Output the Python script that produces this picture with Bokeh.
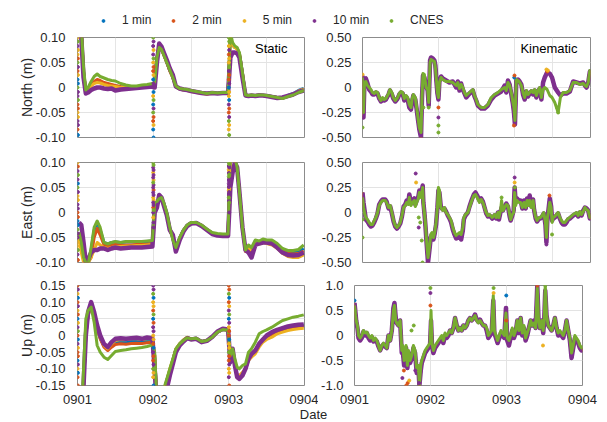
from bokeh.plotting import figure
from bokeh.layouts import column, row
from bokeh.models import FixedTicker, Grid, Legend, LegendItem, Label, Range1d
from bokeh.embed import file_html
from bokeh.resources import INLINE

SERIES = ["1 min", "2 min", "5 min", "10 min", "CNES"]
COLORS = ["#0072BD", "#D95319", "#EDB120", "#7E2F8E", "#77AC30"]
DATE_TICKS = [0, 1, 2, 3]
DATE_LABELS = ["0901", "0902", "0903", "0904"]
NE_STATIC_TICKS = [-0.1, -0.05, 0, 0.05, 0.1]
NE_STATIC_LABELS = ["-0.10", "-0.05", "0", "0.05", "0.10"]
UP_STATIC_TICKS = [-0.15, -0.1, -0.05, 0, 0.05, 0.1, 0.15]
UP_STATIC_LABELS = ["-0.15", "-0.10", "-0.05", "0", "0.05", "0.10", "0.15"]
NE_KIN_TICKS = [-0.5, -0.25, 0, 0.25, 0.5]
NE_KIN_LABELS = ["-0.50", "-0.25", "0", "0.25", "0.50"]
UP_KIN_TICKS = [-1.0, -0.5, 0, 0.5, 1.0]
UP_KIN_LABELS = ["-1.0", "-0.5", "0", "0.5", "1.0"]

# ---------------- static (days since 0901) ----------------
ST = [0.02, 0.05, 0.08, 0.11, 0.14, 0.18, 0.22, 0.26, 0.30, 0.35, 0.40, 0.45, 0.50, 0.57, 0.64, 0.71, 0.78, 0.85, 0.92, 0.99,
      1.02, 1.05, 1.08, 1.11, 1.14, 1.18, 1.22, 1.26, 1.30, 1.35, 1.40, 1.45, 1.50, 1.57, 1.64, 1.71, 1.78, 1.85, 1.92, 1.99,
      2.02, 2.05, 2.08, 2.11, 2.14, 2.18, 2.22, 2.26, 2.30, 2.35, 2.40, 2.45, 2.50, 2.57, 2.64, 2.71, 2.78, 2.85, 2.92, 2.99]

SN_1MIN = [0.15, 0.11, 0.03, -0.01, -0.004, 0.004, 0.01, 0.013, 0.011, 0.008, 0.006, 0.004, 0.003, 0.001, 0.0, 0.0, 0.001, 0.002, 0.003, 0.004,
           0.01, 0.06, 0.082, 0.076, 0.066, 0.05, 0.034, 0.02, 0.002, -0.003, -0.004, -0.005, -0.007, -0.009, -0.011, -0.012, -0.011, -0.012, -0.011, -0.011,
           0.1, 0.085, 0.08, 0.078, 0.068, 0.028, -0.015, -0.016, -0.016, -0.016, -0.015, -0.016, -0.017, -0.018, -0.02, -0.021, -0.016, -0.012, -0.006, -0.002]
SN_2MIN = [0.15, 0.12, 0.03, -0.008, -0.003, 0.005, 0.012, 0.016, 0.014, 0.01, 0.008, 0.006, 0.004, 0.002, 0.001, 0.0, 0.001, 0.002, 0.003, 0.005,
           0.01, 0.06, 0.083, 0.076, 0.066, 0.05, 0.033, 0.02, 0.002, -0.003, -0.004, -0.005, -0.007, -0.009, -0.011, -0.013, -0.011, -0.012, -0.011, -0.011,
           0.1, 0.085, 0.08, 0.078, 0.068, 0.028, -0.015, -0.016, -0.016, -0.016, -0.015, -0.016, -0.017, -0.018, -0.02, -0.021, -0.017, -0.013, -0.008, -0.004]
SN_5MIN = [0.15, 0.11, 0.03, -0.01, -0.005, 0.003, 0.008, 0.01, 0.009, 0.006, 0.004, 0.003, 0.002, 0.0, 0.0, 0.0, 0.0, 0.001, 0.002, 0.004,
           0.01, 0.058, 0.082, 0.075, 0.065, 0.05, 0.034, 0.02, 0.002, -0.003, -0.005, -0.006, -0.008, -0.01, -0.012, -0.013, -0.012, -0.012, -0.011, -0.011,
           0.1, 0.085, 0.08, 0.077, 0.067, 0.027, -0.016, -0.017, -0.017, -0.017, -0.016, -0.016, -0.017, -0.019, -0.021, -0.021, -0.017, -0.013, -0.007, -0.003]
SN_10MIN = [0.15, 0.1, 0.02, -0.012, -0.01, -0.005, -0.002, 0.0, 0.0, -0.002, -0.003, -0.002, -0.006, -0.004, -0.003, -0.002, -0.001, 0.0, 0.001, 0.002,
            0.0, 0.05, 0.088, 0.082, 0.07, 0.055, 0.038, 0.025, 0.002, -0.002, -0.004, -0.005, -0.007, -0.009, -0.011, -0.012, -0.011, -0.012, -0.011, -0.011,
            0.06, 0.07, 0.07, 0.068, 0.06, 0.02, -0.016, -0.017, -0.016, -0.017, -0.016, -0.016, -0.017, -0.019, -0.021, -0.02, -0.017, -0.014, -0.009, -0.006]
SN_CNES = [0.15, 0.12, 0.04, -0.005, 0.0, 0.012, 0.022, 0.027, 0.022, 0.019, 0.016, 0.014, 0.013, 0.008, 0.005, 0.003, 0.003, 0.005, 0.006, 0.008,
           0.01, 0.06, 0.08, 0.076, 0.065, 0.05, 0.035, 0.02, 0.003, -0.002, -0.003, -0.004, -0.006, -0.008, -0.01, -0.012, -0.01, -0.011, -0.01, -0.01,
           0.11, 0.09, 0.083, 0.08, 0.07, 0.03, -0.015, -0.016, -0.015, -0.016, -0.015, -0.015, -0.016, -0.018, -0.02, -0.022, -0.018, -0.015, -0.01, -0.006]

SE_1MIN = [-0.04, -0.065, -0.09, -0.1, -0.1, -0.075, -0.035, -0.02, -0.035, -0.06, -0.063, -0.06, -0.059, -0.06, -0.059, -0.059, -0.059, -0.059, -0.058, -0.057,
           0.02, 0.02, 0.027, 0.028, 0.018, -0.002, -0.032, -0.052, -0.072, -0.051, -0.036, -0.026, -0.021, -0.021, -0.026, -0.034, -0.041, -0.044, -0.044, -0.044,
           0.12, 0.11, 0.1, 0.09, 0.04, -0.03, -0.076, -0.068, -0.073, -0.057, -0.059, -0.055, -0.057, -0.058, -0.065, -0.074, -0.079, -0.08, -0.079, -0.072]
SE_2MIN = [-0.04, -0.07, -0.095, -0.1, -0.1, -0.09, -0.05, -0.032, -0.045, -0.065, -0.068, -0.066, -0.064, -0.066, -0.065, -0.065, -0.064, -0.064, -0.063, -0.062,
           0.02, 0.02, 0.025, 0.025, 0.015, -0.005, -0.035, -0.05, -0.075, -0.053, -0.037, -0.026, -0.021, -0.021, -0.026, -0.035, -0.042, -0.045, -0.046, -0.046,
           0.12, 0.11, 0.1, 0.09, 0.04, -0.03, -0.078, -0.075, -0.082, -0.06, -0.06, -0.057, -0.058, -0.06, -0.067, -0.077, -0.082, -0.083, -0.082, -0.077]
SE_5MIN = [-0.05, -0.08, -0.1, -0.1, -0.1, -0.09, -0.075, -0.06, -0.065, -0.07, -0.072, -0.07, -0.068, -0.068, -0.067, -0.067, -0.066, -0.066, -0.065, -0.064,
           0.02, 0.02, 0.025, 0.027, 0.017, -0.003, -0.033, -0.05, -0.075, -0.052, -0.036, -0.026, -0.021, -0.021, -0.026, -0.034, -0.042, -0.045, -0.045, -0.045,
           0.12, 0.11, 0.1, 0.09, 0.04, -0.03, -0.075, -0.07, -0.075, -0.06, -0.063, -0.06, -0.062, -0.065, -0.072, -0.082, -0.088, -0.09, -0.09, -0.085]
SE_10MIN = [-0.02, -0.025, -0.06, -0.1, -0.095, -0.08, -0.075, -0.075, -0.072, -0.072, -0.075, -0.072, -0.07, -0.072, -0.071, -0.07, -0.07, -0.07, -0.069, -0.068,
            0.0, 0.01, 0.035, 0.03, 0.015, -0.005, -0.035, -0.045, -0.078, -0.055, -0.038, -0.027, -0.022, -0.021, -0.027, -0.035, -0.043, -0.046, -0.047, -0.047,
            0.05, 0.08, 0.1, 0.09, 0.04, -0.03, -0.075, -0.08, -0.09, -0.065, -0.062, -0.06, -0.06, -0.062, -0.07, -0.08, -0.085, -0.086, -0.085, -0.08]
SE_CNES = [-0.04, -0.06, -0.09, -0.1, -0.105, -0.07, -0.03, -0.017, -0.03, -0.06, -0.063, -0.06, -0.058, -0.06, -0.058, -0.058, -0.058, -0.058, -0.057, -0.056,
           0.02, 0.022, 0.028, 0.03, 0.02, 0.0, -0.03, -0.055, -0.07, -0.05, -0.035, -0.025, -0.02, -0.02, -0.025, -0.033, -0.04, -0.042, -0.043, -0.043,
           0.13, 0.12, 0.11, 0.09, 0.04, -0.03, -0.075, -0.065, -0.07, -0.055, -0.057, -0.053, -0.055, -0.055, -0.062, -0.072, -0.076, -0.076, -0.074, -0.065]

SU_1MIN = [-0.3, -0.25, -0.15, 0.0, 0.063, 0.09, 0.06, 0.022, -0.008, -0.032, -0.042, -0.03, -0.02, -0.018, -0.019, -0.017, -0.016, -0.018, -0.016, -0.018,
           -0.06, -0.2, -0.25, -0.21, -0.17, -0.135, -0.103, -0.073, -0.041, -0.025, -0.014, -0.006, -0.01, -0.008, -0.018, -0.015, -0.005, 0.01, 0.018, 0.016,
           -0.08, -0.045, -0.09, -0.12, -0.127, -0.115, -0.1, -0.07, -0.057, -0.047, -0.027, -0.014, -0.002, 0.007, 0.015, 0.02, 0.025, 0.028, 0.03, 0.031]
SU_2MIN = [-0.3, -0.25, -0.15, 0.0, 0.06, 0.09, 0.06, 0.02, -0.01, -0.035, -0.045, -0.035, -0.027, -0.025, -0.026, -0.024, -0.023, -0.024, -0.022, -0.02,
           -0.06, -0.2, -0.25, -0.21, -0.17, -0.135, -0.105, -0.075, -0.042, -0.026, -0.015, -0.007, -0.011, -0.009, -0.019, -0.016, -0.005, 0.011, 0.019, 0.017,
           -0.08, -0.05, -0.09, -0.12, -0.125, -0.115, -0.1, -0.072, -0.06, -0.05, -0.03, -0.016, -0.006, 0.003, 0.012, 0.017, 0.022, 0.025, 0.027, 0.028]
SU_5MIN = [-0.3, -0.25, -0.15, 0.0, 0.065, 0.09, 0.06, 0.025, -0.005, -0.03, -0.04, -0.025, -0.015, -0.012, -0.013, -0.01, -0.01, -0.012, -0.01, -0.01,
           -0.06, -0.2, -0.25, -0.21, -0.17, -0.135, -0.1, -0.072, -0.04, -0.024, -0.013, -0.005, -0.01, -0.008, -0.018, -0.015, -0.005, 0.01, 0.018, 0.016,
           -0.08, -0.05, -0.09, -0.12, -0.12, -0.11, -0.1, -0.075, -0.065, -0.055, -0.035, -0.02, -0.012, -0.005, 0.005, 0.01, 0.015, 0.018, 0.02, 0.022]
SU_10MIN = [-0.3, -0.25, -0.15, 0.0, 0.07, 0.1, 0.07, 0.03, 0.0, -0.025, -0.035, -0.02, -0.01, -0.008, -0.01, -0.008, -0.007, -0.01, -0.006, -0.008,
            -0.1, -0.22, -0.27, -0.24, -0.2, -0.16, -0.12, -0.085, -0.05, -0.03, -0.018, -0.008, -0.012, -0.01, -0.02, -0.016, -0.004, 0.012, 0.02, 0.018,
            -0.08, -0.04, -0.09, -0.125, -0.13, -0.12, -0.1, -0.07, -0.055, -0.045, -0.025, -0.012, 0.0, 0.01, 0.017, 0.022, 0.027, 0.03, 0.032, 0.033]
SU_CNES = [-0.3, -0.25, -0.1, 0.05, 0.075, 0.085, 0.04, -0.03, -0.05, -0.065, -0.072, -0.06, -0.048, -0.045, -0.043, -0.04, -0.038, -0.036, -0.033, -0.028,
           -0.05, -0.2, -0.25, -0.2, -0.16, -0.13, -0.1, -0.07, -0.04, -0.025, -0.015, -0.007, -0.01, -0.008, -0.018, -0.015, -0.005, 0.01, 0.018, 0.016,
           -0.06, -0.04, -0.07, -0.095, -0.1, -0.09, -0.085, -0.05, -0.04, -0.02, 0.005, 0.012, 0.017, 0.025, 0.035, 0.045, 0.05, 0.055, 0.058, 0.062]

# convergence scatter at the start of each static day (series index 0..4)
STATIC_DOT_T = [0.0, 0.0, 0.0, 0.0, 0.0, 0.0, 0.0, 0.0, 0.0, 0.0, 0.0, 0.0,
                0.005, 0.005, 0.005, 0.005, 0.005, 0.005, 0.005, 0.005, 0.005, 0.005, 0.005, 0.005,
                1.0, 1.0, 1.0, 1.0, 1.0, 1.0, 1.0, 1.0, 1.0, 1.0, 1.0, 1.0,
                1.005, 1.005, 1.005, 1.005, 1.005, 1.005, 1.005, 1.005, 1.005, 1.005, 1.005, 1.005,
                2.0, 2.0, 2.0, 2.0, 2.0, 2.0, 2.0, 2.0, 2.0, 2.0, 2.0, 2.0,
                2.005, 2.005, 2.005, 2.005, 2.005, 2.005, 2.005, 2.005, 2.005, 2.005, 2.005, 2.005]
SN_DOT_V = [0.1, 0.083, 0.066, 0.05, 0.033, 0.016, 0.0, -0.017, -0.034, -0.05, -0.067, -0.084,
            0.092, 0.075, 0.058, 0.041, 0.025, 0.008, -0.009, -0.025, -0.042, -0.059, -0.075, -0.095,
            0.1, 0.083, 0.066, 0.05, 0.033, 0.016, 0.0, -0.017, -0.034, -0.05, -0.067, -0.084,
            0.092, 0.075, 0.058, 0.041, 0.025, 0.008, -0.009, -0.025, -0.042, -0.059, -0.075, -0.1,
            0.1, 0.083, 0.066, 0.05, 0.033, 0.016, 0.0, -0.017, -0.034, -0.05, -0.067, -0.084,
            0.092, 0.075, 0.058, 0.041, 0.025, 0.008, -0.009, -0.025, -0.042, -0.059, -0.075, -0.095]
SN_DOT_S = [2, 3, 2, 4, 1, 0, 4, 3, 1, 2, 3, 1, 4, 2, 1, 3, 2, 0, 3, 4, 1, 2, 3, 0,
            4, 3, 3, 2, 1, 0, 3, 2, 0, 4, 1, 0, 3, 2, 4, 1, 2, 3, 0, 4, 3, 1, 2, 0,
            4, 2, 1, 2, 3, 1, 0, 2, 3, 1, 4, 2, 4, 3, 2, 4, 1, 3, 2, 0, 1, 3, 2, 4]
SE_DOT_V = [0.1, 0.083, 0.066, 0.05, 0.033, 0.016, 0.0, -0.017, -0.034, -0.05, -0.067, -0.084,
            0.092, 0.075, 0.058, 0.041, 0.025, 0.008, -0.009, -0.025, -0.042, -0.059, -0.075, -0.095,
            0.1, 0.09, 0.08, 0.07, 0.06, 0.05, 0.04, 0.03, 0.02, 0.01, 0.0, -0.01,
            0.095, 0.085, 0.075, 0.065, 0.055, 0.045, 0.035, 0.025, 0.015, 0.005, -0.02, -0.03,
            0.1, 0.093, 0.086, 0.079, 0.072, 0.065, 0.058, 0.051, 0.044, 0.037, 0.03, 0.023,
            0.097, 0.09, 0.083, 0.076, 0.069, 0.062, 0.055, 0.048, 0.041, 0.034, 0.02, 0.0]
SE_DOT_S = [2, 3, 3, 4, 2, 3, 1, 0, 4, 3, 2, 3, 1, 4, 0, 3, 2, 3, 1, 0, 3, 2, 4, 1,
            4, 3, 2, 3, 4, 3, 3, 2, 3, 1, 3, 2, 4, 3, 3, 2, 3, 1, 3, 2, 3, 4, 3, 3,
            4, 3, 2, 3, 4, 3, 3, 3, 2, 3, 4, 3, 4, 3, 2, 4, 3, 3, 3, 2, 3, 3, 4, 3]
SU_DOT_V = [0.15, 0.125, 0.1, 0.075, 0.05, 0.025, 0.0, -0.025, -0.05, -0.075, -0.1, -0.125,
            0.138, 0.113, 0.088, 0.063, 0.038, 0.013, -0.012, -0.037, -0.062, -0.087, -0.112, -0.15,
            0.15, 0.125, 0.1, 0.075, 0.05, 0.025, 0.0, -0.025, -0.05, -0.075, -0.1, -0.125,
            0.138, 0.113, 0.088, 0.063, 0.038, 0.013, -0.012, -0.037, -0.062, -0.087, -0.112, -0.15,
            0.15, 0.125, 0.1, 0.075, 0.05, 0.025, 0.0, -0.025, -0.05, -0.075, -0.1, -0.125,
            0.138, 0.113, 0.088, 0.063, 0.038, 0.013, -0.012, -0.037, -0.062, -0.087, -0.112, -0.15]
SU_DOT_S = [1, 2, 1, 2, 0, 3, 1, 3, 1, 0, 2, 1, 3, 0, 3, 1, 2, 4, 0, 2, 1, 3, 0, 1,
            3, 4, 2, 1, 0, 3, 2, 1, 3, 1, 4, 2, 3, 0, 2, 4, 1, 3, 2, 0, 1, 3, 2, 0,
            1, 4, 1, 3, 0, 2, 1, 2, 4, 1, 2, 3, 1, 0, 2, 4, 3, 1, 0, 2, 1, 3, 2, 1]

# ---------------- kinematic ----------------
KN_T = [0.000, 0.013, 0.026, 0.044, 0.066, 0.088, 0.110, 0.132, 0.154, 0.176, 0.198, 0.220, 0.242, 0.264, 0.286, 0.308, 0.343, 0.361, 0.387, 0.405,
        0.431, 0.462, 0.484, 0.506, 0.528, 0.550, 0.572, 0.594, 0.616, 0.638, 0.651, 0.669, 0.695, 0.713, 0.730, 0.748, 0.770, 0.783, 0.796, 0.814,
        0.836, 0.858, 0.871, 0.889, 0.902, 0.924, 0.946, 0.959, 0.972, 0.986, 0.999, 1.012, 1.034, 1.056, 1.100, 1.144, 1.188, 1.232, 1.254, 1.276,
        1.298, 1.320, 1.342, 1.364, 1.408, 1.452, 1.474, 1.496, 1.518, 1.562, 1.606, 1.650, 1.694, 1.738, 1.782, 1.826, 1.870, 1.892, 1.914, 1.936,
        1.958, 1.980, 1.993, 2.006, 2.024, 2.046, 2.068, 2.090, 2.112, 2.134, 2.156, 2.178, 2.200, 2.222, 2.244, 2.266, 2.288, 2.310, 2.332, 2.354,
        2.376, 2.398, 2.429, 2.464, 2.494, 2.530, 2.574, 2.604, 2.640, 2.684, 2.728, 2.772, 2.816, 2.860, 2.904, 2.926, 2.948, 2.970, 2.992, 3.000]
KN_CNES = [0.1, -0.25, 0.05, 0.06, 0.02, 0.0, -0.02, -0.05, -0.06, -0.04, -0.05, -0.1, -0.13, -0.1, -0.12, -0.11, -0.06, -0.02, -0.05, -0.1,
           -0.13, -0.1, -0.06, -0.04, -0.05, -0.11, -0.08, -0.1, -0.17, -0.2, -0.12, -0.07, -0.1, -0.2, -0.3, -0.4, -0.45, -0.1, 0.14, 0.13,
           0.0, -0.02, -0.15, 0.25, 0.28, 0.27, 0.26, 0.2, 0.08, -0.05, -0.1, 0.05, 0.1, 0.08, 0.06, 0.06, 0.05, 0.02, 0.05, -0.01,
           0.03, 0.0, -0.05, -0.08, -0.05, -0.02, -0.08, -0.12, -0.17, -0.2, -0.2, -0.17, -0.1, -0.07, -0.05, -0.02, 0.0, -0.03, 0.05, 0.02,
           -0.05, -0.15, -0.2, -0.33, 0.08, 0.07, 0.05, 0.02, -0.05, -0.1, -0.03, -0.07, -0.05, -0.03, -0.05, -0.02, -0.08, -0.03, 0.0, -0.1,
           -0.02, 0.0, -0.02, -0.08, -0.1, -0.15, -0.25, -0.1, -0.05, -0.05, -0.03, 0.05, 0.05, 0.03, 0.04, 0.02, 0.01, 0.05, 0.17, 0.15]
KN_10MIN = [0.12, -0.3, 0.08, 0.09, 0.04, -0.02, -0.04, -0.07, -0.07, -0.05, -0.06, -0.11, -0.14, -0.12, -0.13, -0.12, -0.07, -0.03, -0.07, -0.11,
            -0.14, -0.11, -0.07, -0.05, -0.06, -0.13, -0.09, -0.12, -0.2, -0.22, -0.15, -0.08, -0.12, -0.22, -0.32, -0.42, -0.5, -0.1, 0.12, 0.1,
            0.02, -0.03, -0.18, 0.27, 0.3, 0.29, 0.27, 0.22, 0.07, -0.06, -0.12, 0.06, 0.11, 0.09, 0.07, 0.05, 0.06, 0.0, 0.06, -0.03,
            0.04, -0.02, -0.06, -0.1, -0.06, -0.03, -0.09, -0.13, -0.18, -0.21, -0.21, -0.18, -0.12, -0.08, -0.06, -0.04, 0.02, -0.05, 0.07, 0.03,
            -0.07, -0.17, -0.25, -0.37, 0.07, 0.08, 0.06, 0.03, -0.07, -0.12, -0.04, -0.09, -0.06, -0.04, -0.07, -0.03, -0.1, -0.04, -0.01, -0.12,
            0.05, 0.1, 0.15, 0.14, 0.1, 0.0, -0.05, -0.08, -0.06, -0.06, -0.04, 0.06, 0.05, 0.04, 0.05, 0.02, 0.0, 0.05, 0.16, 0.14]
KN_DOT_T = [0.0, 0.0, 0.0, 0.801, 0.871, 0.999, 0.999, 0.999, 0.999, 1.993, 1.997, 2.0, 2.42, 2.44, 2.43, 2.574, 2.56]
KN_DOT_V = [-0.4, 0.13, -0.3, -0.2, -0.2, -0.45, -0.3, -0.2, -0.38, -0.38, 0.1, 0.12, 0.18, 0.17, 0.16, -0.25, -0.2]
KN_DOT_S = [4, 2, 3, 4, 4, 4, 3, 1, 4, 1, 0, 1, 2, 2, 1, 4, 4]

KE_T = [0.000, 0.013, 0.031, 0.044, 0.066, 0.088, 0.110, 0.132, 0.154, 0.176, 0.198, 0.220, 0.242, 0.264, 0.299, 0.317, 0.343, 0.365, 0.387, 0.409,
        0.431, 0.453, 0.475, 0.497, 0.519, 0.541, 0.563, 0.581, 0.603, 0.616, 0.638, 0.660, 0.682, 0.695, 0.713, 0.735, 0.748, 0.770, 0.792, 0.801,
        0.814, 0.827, 0.845, 0.862, 0.880, 0.898, 0.915, 0.933, 0.950, 0.968, 0.986, 0.999, 1.012, 1.030, 1.056, 1.078, 1.100, 1.122, 1.144, 1.166,
        1.188, 1.210, 1.232, 1.276, 1.298, 1.320, 1.333, 1.355, 1.386, 1.408, 1.439, 1.465, 1.487, 1.509, 1.540, 1.562, 1.584, 1.606, 1.628, 1.650,
        1.672, 1.707, 1.738, 1.760, 1.782, 1.795, 1.817, 1.830, 1.848, 1.870, 1.892, 1.914, 1.936, 1.949, 1.971, 1.989, 2.002, 2.015, 2.033, 2.059,
        2.081, 2.103, 2.125, 2.147, 2.165, 2.182, 2.200, 2.222, 2.244, 2.257, 2.279, 2.297, 2.323, 2.341, 2.363, 2.385, 2.407, 2.420, 2.433, 2.446,
        2.464, 2.482, 2.495, 2.508, 2.530, 2.552, 2.574, 2.596, 2.618, 2.640, 2.662, 2.684, 2.706, 2.728, 2.772, 2.816, 2.838, 2.860, 2.882, 2.904,
        2.926, 2.948, 2.970, 2.992, 3.000]
KE_CNES = [0.15, 0.05, -0.02, -0.05, -0.07, -0.1, -0.12, -0.12, -0.08, -0.05, 0.0, 0.07, 0.1, 0.12, 0.12, 0.1, 0.05, 0.07, 0.0, -0.08,
           -0.13, -0.15, -0.13, -0.1, -0.03, 0.05, 0.07, 0.1, 0.08, 0.15, 0.07, 0.1, 0.12, 0.06, 0.1, 0.14, 0.2, 0.15, 0.25, 0.08,
           0.0, -0.1, -0.3, -0.45, -0.35, -0.22, -0.2, -0.25, -0.2, -0.1, 0.05, 0.25, 0.22, 0.05, 0.02, 0.05, 0.0, -0.02, -0.05, -0.08,
           -0.15, -0.2, -0.23, -0.2, -0.22, -0.15, -0.05, -0.02, 0.0, 0.05, 0.12, 0.17, 0.18, 0.15, 0.1, 0.13, 0.1, 0.05, 0.0, -0.03,
           -0.02, -0.05, -0.02, -0.05, 0.0, -0.05, 0.02, 0.12, 0.02, 0.05, 0.08, 0.07, -0.02, -0.07, -0.02, 0.0, 0.2, 0.07, 0.12, 0.1,
           0.1, 0.05, 0.1, 0.05, 0.12, 0.07, 0.12, 0.05, 0.12, 0.04, -0.05, -0.08, -0.05, -0.05, -0.03, 0.0, -0.1, -0.25, -0.05, 0.0,
           0.1, 0.05, -0.1, -0.05, -0.04, -0.02, 0.0, -0.05, -0.08, -0.1, -0.1, -0.08, -0.06, -0.05, -0.02, 0.0, -0.03, 0.01, -0.02, 0.01,
           0.05, 0.03, 0.02, -0.05, -0.04]
KE_10MIN = [0.2, 0.1, 0.0, -0.07, -0.09, -0.12, -0.14, -0.13, -0.1, -0.06, -0.01, 0.08, 0.11, 0.13, 0.13, 0.11, 0.04, 0.06, -0.01, -0.09,
            -0.14, -0.16, -0.14, -0.11, -0.04, 0.06, 0.08, 0.12, 0.1, 0.18, 0.09, 0.12, 0.14, 0.08, 0.12, 0.16, 0.22, 0.17, 0.27, 0.1,
            0.0, -0.12, -0.32, -0.5, -0.38, -0.25, -0.22, -0.27, -0.21, -0.12, 0.05, 0.22, 0.2, 0.06, 0.03, 0.04, 0.01, -0.03, -0.06, -0.1,
            -0.17, -0.22, -0.26, -0.24, -0.27, -0.18, -0.07, -0.03, 0.0, 0.06, 0.13, 0.18, 0.2, 0.17, 0.12, 0.14, 0.11, 0.05, -0.01, -0.04,
            -0.03, -0.06, -0.03, -0.06, 0.0, -0.07, 0.01, 0.05, 0.02, 0.06, 0.09, 0.06, -0.04, -0.08, -0.03, 0.02, 0.25, 0.1, 0.14, 0.12,
            0.12, 0.04, 0.12, 0.04, 0.14, 0.08, 0.17, 0.06, 0.13, 0.03, -0.06, -0.09, -0.06, -0.06, -0.04, -0.01, -0.12, -0.3, -0.06, 0.02,
            0.14, 0.06, -0.08, -0.06, -0.05, -0.03, -0.01, -0.06, -0.1, -0.12, -0.12, -0.1, -0.07, -0.06, -0.03, -0.01, -0.04, 0.0, -0.03, 0.02,
            0.05, 0.04, 0.02, -0.06, -0.05]
KE_DOT_T = [0.0, 0.0, 0.7, 0.705, 0.74, 0.74, 0.78, 0.79, 0.76, 2.002, 2.002, 2.005, 1.83, 2.46, 2.494, 2.42, 0.86]
KE_DOT_V = [-0.25, -0.07, 0.39, 0.3, -0.05, -0.15, -0.28, -0.5, -0.1, 0.35, 0.3, 0.25, 0.15, 0.17, -0.22, -0.32, -0.5]
KE_DOT_S = [4, 4, 3, 2, 4, 3, 4, 4, 4, 3, 2, 4, 4, 1, 4, 3, 3]

KU_T = [0.000, 0.013, 0.022, 0.039, 0.053, 0.074, 0.096, 0.118, 0.140, 0.162, 0.184, 0.206, 0.228, 0.250, 0.272, 0.294, 0.315, 0.337, 0.359, 0.381,
        0.403, 0.425, 0.447, 0.469, 0.491, 0.512, 0.526, 0.543, 0.556, 0.578, 0.600, 0.622, 0.635, 0.653, 0.666, 0.679, 0.696, 0.710, 0.731, 0.753,
        0.775, 0.797, 0.819, 0.841, 0.854, 0.872, 0.885, 0.907, 0.929, 0.950, 0.972, 0.994, 1.007, 1.020, 1.038, 1.060, 1.082, 1.104, 1.126, 1.148,
        1.169, 1.191, 1.213, 1.235, 1.257, 1.279, 1.301, 1.323, 1.345, 1.367, 1.388, 1.410, 1.432, 1.454, 1.476, 1.498, 1.520, 1.542, 1.564, 1.586,
        1.607, 1.629, 1.651, 1.673, 1.695, 1.717, 1.739, 1.761, 1.783, 1.805, 1.826, 1.840, 1.862, 1.883, 1.905, 1.927, 1.949, 1.971, 1.993, 2.010,
        2.032, 2.054, 2.076, 2.098, 2.120, 2.142, 2.164, 2.186, 2.208, 2.229, 2.251, 2.273, 2.295, 2.317, 2.339, 2.361, 2.383, 2.405, 2.422, 2.440,
        2.462, 2.483, 2.496, 2.510, 2.527, 2.549, 2.571, 2.593, 2.615, 2.637, 2.659, 2.681, 2.702, 2.724, 2.746, 2.768, 2.790, 2.812, 2.834, 2.856,
        2.878, 2.900, 2.921, 2.943, 2.965, 2.987, 3.000]
KU_CNES = [0.6, 0.4, 0.3, 0.2, 0.0, -0.05, 0.0, 0.1, 0.05, 0.07, 0.0, -0.05, 0.0, -0.1, -0.05, -0.1, -0.2, -0.3, -0.2, -0.15,
           -0.2, -0.25, 0.0, -0.1, 0.1, 0.5, 0.6, 0.3, 0.25, 0.2, 0.3, -0.3, -0.2, -0.5, -0.4, -0.2, -0.6, -0.3, -0.5, -0.4,
           -0.2, -0.3, -0.7, -0.6, -1.0, -0.6, -0.5, -0.4, -0.3, -0.25, -0.2, -0.15, 0.5, -0.15, -0.3, -0.2, -0.15, -0.1, -0.05, 0.0,
           -0.1, 0.05, 0.0, 0.05, 0.1, 0.05, 0.15, 0.35, 0.2, 0.1, 0.15, 0.1, 0.2, 0.15, 0.2, 0.3, 0.35, 0.3, 0.35, 0.4,
           0.3, 0.25, 0.3, 0.25, 0.2, 0.2, 0.15, 0.0, 0.05, 0.1, 0.8, 0.1, 0.0, -0.1, 0.0, 0.1, 0.05, 0.0, 0.45, -0.05,
           -0.1, 0.0, 0.15, 0.0, 0.1, 0.3, 0.1, 0.35, 0.05, 0.2, -0.05, 0.05, 0.15, 0.3, 0.2, 0.25, 0.15, 0.95, 0.3, 0.15,
           0.3, 0.1, 0.3, 1.0, 0.4, 0.2, 0.15, 0.1, 0.2, 0.35, 0.15, 0.05, 0.1, 0.05, 0.0, 0.1, 0.3, 0.1, -0.05, -0.35,
           -0.2, 0.0, -0.05, -0.1, -0.2, -0.25, -0.2]
KU_10MIN = [0.65, 0.45, 0.3, 0.15, -0.05, -0.1, -0.05, 0.08, 0.0, 0.05, -0.05, -0.1, -0.03, -0.12, -0.08, -0.12, -0.22, -0.3, -0.22, -0.18,
            -0.22, -0.25, 0.0, -0.1, 0.1, 0.55, 0.65, 0.35, 0.25, 0.2, 0.3, -0.35, -0.3, -0.6, -0.45, -0.25, -0.65, -0.35, -0.55, -0.45,
            -0.25, -0.35, -0.75, -0.65, -1.0, -0.7, -0.55, -0.45, -0.35, -0.3, -0.25, -0.2, 0.3, -0.2, -0.35, -0.25, -0.2, -0.15, -0.1, -0.05,
            -0.15, 0.0, -0.05, 0.0, 0.1, 0.05, 0.15, 0.35, 0.2, 0.1, 0.15, 0.1, 0.2, 0.15, 0.2, 0.3, 0.35, 0.3, 0.35, 0.42,
            0.32, 0.27, 0.32, 0.25, 0.2, 0.2, 0.1, -0.05, 0.0, 0.05, 0.7, 0.05, -0.05, -0.15, -0.05, 0.05, 0.0, -0.05, 0.55, -0.1,
            -0.2, -0.05, 0.1, -0.05, 0.05, 0.3, 0.05, 0.35, 0.0, 0.15, -0.1, 0.0, 0.15, 0.3, 0.2, 0.3, 0.15, 1.0, 0.3, 0.15,
            0.3, 0.05, 0.3, 0.9, 0.4, 0.2, 0.15, 0.1, 0.2, 0.35, 0.15, 0.0, 0.05, 0.0, -0.05, 0.1, 0.3, 0.1, -0.1, -0.45,
            -0.25, -0.05, -0.1, -0.15, -0.25, -0.3, -0.25]
KU_DOT_T = [0.0, 0.0, 0.63, 0.65, 0.7, 0.72, 0.78, 0.8, 0.85, 0.999, 0.999, 0.999, 1.83, 1.83, 1.997, 1.997, 1.997, 2.405, 2.51, 2.48, 0.75, 0.68]
KU_DOT_V = [0.7, 0.5, -0.85, -0.7, -0.95, -0.9, 0.2, -0.7, -0.95, 0.95, 0.85, 0.6, 0.95, 0.85, 0.8, 0.55, 0.3, 1.0, 1.0, -0.2, 0.1, -1.0]
KU_DOT_S = [0, 4, 3, 1, 1, 2, 4, 3, 3, 4, 3, 1, 4, 2, 0, 3, 1, 1, 4, 2, 4, 1]

FONT = "Liberation Sans"
TXT = "#262626"
BOX = "#8c8c8c"
GRIDC = "#e3e3e3"


def panel(col, rowi, yr, yticks, ylabels, ylabel, tag):
    left = col == 0
    p = figure(frame_width=227 if left else 228, frame_height=100,
               x_range=Range1d(0, 3), y_range=Range1d(yr[0], yr[1]),
               output_backend="svg", toolbar_location=None,
               x_axis_location="below" if rowi == 2 else None,
               min_border_left=77 if left else 35, min_border_right=14 if left else 26,
               min_border_top=[8, 13, 12][rowi], min_border_bottom=[12, 11, 20][rowi],
               background_fill_color="white", border_fill_color="white",
               outline_line_color=BOX, outline_line_width=1)
    ax = p.yaxis[0]
    ax.ticker = FixedTicker(ticks=yticks)
    ax.major_label_overrides = {t: l for t, l in zip(yticks, ylabels)}
    ax.axis_line_color = None
    ax.major_tick_line_color = None
    ax.minor_tick_line_color = None
    ax.major_label_standoff = 6 if left else 5
    ax.major_label_text_font = FONT
    ax.major_label_text_font_size = "13px"
    ax.major_label_text_color = TXT
    if left:
        ax.axis_label = ylabel
        ax.axis_label_text_font = FONT
        ax.axis_label_text_font_size = "14px"
        ax.axis_label_text_font_style = "normal"
        ax.axis_label_text_color = TXT
        ax.axis_label_standoff = -2
    p.ygrid.ticker = FixedTicker(ticks=yticks)
    p.ygrid.grid_line_color = GRIDC
    p.add_layout(Grid(dimension=0, ticker=FixedTicker(ticks=[1, 2]), grid_line_color=GRIDC))
    if rowi == 2:
        xa = p.xaxis[0]
        xa.ticker = FixedTicker(ticks=DATE_TICKS)
        xa.major_label_overrides = {t: l for t, l in zip(DATE_TICKS, DATE_LABELS)}
        xa.axis_line_color = None
        xa.major_tick_line_color = None
        xa.minor_tick_line_color = None
        xa.major_label_standoff = 3
        xa.major_label_text_font = FONT
        xa.major_label_text_font_size = "13px"
        xa.major_label_text_color = TXT
    if tag:
        p.add_layout(Label(x=3, y=yr[1], x_offset=-17 if left else -13, y_offset=-3,
                           text=tag, text_align="right", text_baseline="top",
                           text_font=FONT, text_font_size="13px", text_color="#000000"))
    return p


def draw(p, t, series_vals, dot_t, dot_v, dot_s):
    for i, (vals, c) in enumerate(zip(series_vals, COLORS)):
        p.line(t, vals, line_color=c, line_width=4.5 if i == 3 else 3, line_join="round")
    for i, c in enumerate(COLORS):
        tt = [a for a, k in zip(dot_t, dot_s) if k == i]
        vv = [b for b, k in zip(dot_v, dot_s) if k == i]
        if tt:
            p.scatter(tt, vv, size=3, color=c, marker="circle")


p1 = panel(0, 0, (-0.1, 0.1), NE_STATIC_TICKS, NE_STATIC_LABELS, "North (m)", "Static")
draw(p1, ST, [SN_1MIN, SN_2MIN, SN_5MIN, SN_10MIN, SN_CNES], STATIC_DOT_T, SN_DOT_V, SN_DOT_S)
p2 = panel(1, 0, (-0.5, 0.5), NE_KIN_TICKS, NE_KIN_LABELS, None, "Kinematic")
draw(p2, KN_T, [KN_10MIN, KN_10MIN, KN_10MIN, KN_10MIN, KN_CNES], KN_DOT_T, KN_DOT_V, KN_DOT_S)
p3 = panel(0, 1, (-0.1, 0.1), NE_STATIC_TICKS, NE_STATIC_LABELS, "East (m)", None)
draw(p3, ST, [SE_1MIN, SE_2MIN, SE_5MIN, SE_10MIN, SE_CNES], STATIC_DOT_T, SE_DOT_V, SE_DOT_S)
p4 = panel(1, 1, (-0.5, 0.5), NE_KIN_TICKS, NE_KIN_LABELS, None, None)
draw(p4, KE_T, [KE_10MIN, KE_10MIN, KE_10MIN, KE_10MIN, KE_CNES], KE_DOT_T, KE_DOT_V, KE_DOT_S)
p5 = panel(0, 2, (-0.15, 0.15), UP_STATIC_TICKS, UP_STATIC_LABELS, "Up (m)", None)
draw(p5, ST, [SU_1MIN, SU_2MIN, SU_5MIN, SU_10MIN, SU_CNES], STATIC_DOT_T, SU_DOT_V, SU_DOT_S)
p6 = panel(1, 2, (-1.0, 1.0), UP_KIN_TICKS, UP_KIN_LABELS, None, None)
draw(p6, KU_T, [KU_10MIN, KU_10MIN, KU_10MIN, KU_10MIN, KU_CNES], KU_DOT_T, KU_DOT_V, KU_DOT_S)

# legend strip
lf = figure(width=607, height=29, x_axis_location=None, y_axis_location=None,
            toolbar_location=None, output_backend="svg", min_border=0,
            outline_line_color=None, x_range=Range1d(0, 1), y_range=Range1d(0, 1))
lf.grid.visible = False
items = []
for s, c in zip(SERIES, COLORS):
    r = lf.scatter([-5], [-5], color=c, size=2.5, marker="circle")
    items.append(LegendItem(label=s, renderers=[r]))
leg = Legend(items=items, orientation="horizontal", location=(93, 0),
             glyph_width=20, glyph_height=7, label_height=18, label_standoff=9, spacing=12,
             padding=0, margin=0, border_line_color=None, background_fill_alpha=0,
             label_text_font=FONT, label_text_font_size="12px", label_text_color=TXT)
lf.add_layout(leg)

# "Date" strip
df = figure(width=607, height=17, x_axis_location=None, y_axis_location=None,
            toolbar_location=None, output_backend="svg", min_border=0,
            outline_line_color=None, x_range=Range1d(0, 607), y_range=Range1d(0, 17))
df.grid.visible = False
df.add_layout(Label(x=313, y=9, text="Date", text_align="center", text_baseline="middle",
                    text_font=FONT, text_font_size="13px", text_color=TXT))

layout = column(lf, row(p1, p2), row(p3, p4), row(p5, p6), df)
open("out.html", "w").write(file_html(layout, INLINE))
